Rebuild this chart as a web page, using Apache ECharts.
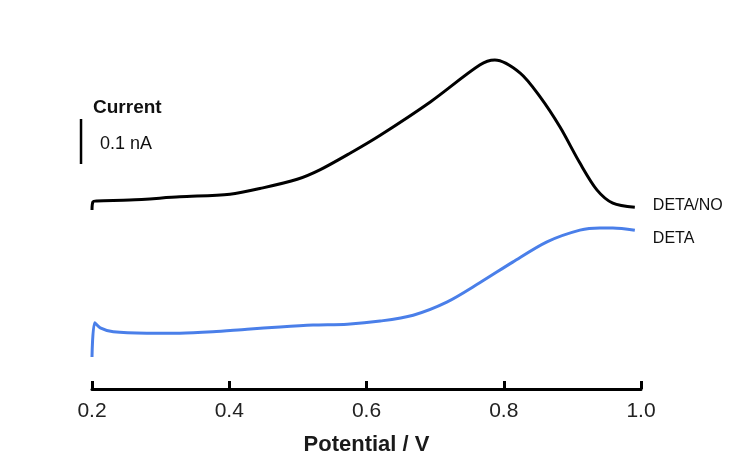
<!DOCTYPE html>
<html>
<head>
<meta charset="utf-8">
<script src="https://cdn.jsdelivr.net/npm/echarts@6/dist/echarts.min.js"></script>
<style>
  html, body { margin: 0; padding: 0; background: #fff; }
  #chart { width: 746px; height: 466px; }
</style>
</head>
<body>
<div id="chart"></div>
<script>
// Potential sweep (V) and measured current (nA) for each sample
const detaNoPotential = [0.200, 0.2015, 0.207, 0.255, 0.328, 0.401, 0.449, 0.499, 0.532, 0.576, 0.620, 0.693, 0.765, 0.787, 0.824, 0.853, 0.882, 0.911, 0.936, 0.959, 0.991];
const detaNoCurrent   = [0.398, 0.416, 0.418, 0.420, 0.427, 0.433, 0.447, 0.466, 0.487, 0.524, 0.564, 0.638, 0.720, 0.731, 0.702, 0.649, 0.582, 0.502, 0.442, 0.413, 0.404];

const detaPotential = [0.200, 0.204, 0.212, 0.231, 0.280, 0.328, 0.376, 0.426, 0.474, 0.522, 0.572, 0.620, 0.668, 0.717, 0.765, 0.813, 0.863, 0.911, 0.940, 0.959, 0.991];
const detaCurrent   = [0.071, 0.147, 0.136, 0.127, 0.124, 0.124, 0.127, 0.133, 0.138, 0.142, 0.144, 0.151, 0.164, 0.193, 0.236, 0.282, 0.327, 0.353, 0.358, 0.358, 0.353];

const xTicks = [0.2, 0.4, 0.6, 0.8, 1.0];

// Scale bar: 0.1 nA
const scaleBarPotential = 0.184;
const scaleBarFrom = 0.50;
const scaleBarTo = 0.60;

const zip = (xs, ys) => xs.map((x, i) => [x, ys[i]]);

const chart = echarts.init(document.getElementById('chart'), null, { renderer: 'canvas' });
const font = 'Liberation Sans, Arial, Helvetica, sans-serif';

chart.setOption({
  animation: false,
  backgroundColor: '#ffffff',
  grid: { left: 92, right: 105, top: 20, bottom: 77, containLabel: false, outerBoundsMode: 'none' },
  xAxis: {
    type: 'value',
    min: 0.2, max: 1.0, interval: 0.2,
    name: 'Potential / V',
    nameLocation: 'middle',
    nameGap: 45,
    nameTextStyle: { fontFamily: font, fontSize: 22, fontWeight: 'bold', color: '#1a1a1a' },
    axisLine: { show: true, lineStyle: { color: '#000', width: 3 } },
    axisTick: { show: true, inside: true, length: 8, lineStyle: { color: '#000', width: 3 } },
    axisLabel: {
      margin: 12, fontFamily: font, fontSize: 21, color: '#222',
      formatter: v => xTicks.includes(+v.toFixed(1)) ? v.toFixed(1) : ''
    },
    splitLine: { show: false }
  },
  yAxis: {
    type: 'value', min: 0, max: 0.82,
    show: false
  },
  series: [
    {
      name: 'DETA/NO',
      type: 'line',
      data: zip(detaNoPotential, detaNoCurrent),
      smooth: 0.3,
      showSymbol: false,
      lineStyle: { color: '#000', width: 3 },
      endLabel: {
        show: true, formatter: 'DETA/NO', distance: 18, offset: [0, -2],
        fontFamily: font, fontSize: 16, color: '#111'
      }
    },
    {
      name: 'DETA',
      type: 'line',
      data: zip(detaPotential, detaCurrent),
      smooth: 0.3,
      showSymbol: false,
      lineStyle: { color: '#4a7fe9', width: 3 },
      endLabel: {
        show: true, formatter: 'DETA', distance: 18, offset: [0, 8],
        fontFamily: font, fontSize: 16, color: '#111'
      }
    }
  ]
});

// Scale bar and its caption, placed through the chart's own coordinates
function drawScaleBar() {
  const p1 = chart.convertToPixel({ gridIndex: 0 }, [0.2, scaleBarFrom]);
  const p2 = chart.convertToPixel({ gridIndex: 0 }, [0.2, scaleBarTo]);
  const x0 = chart.convertToPixel({ xAxisIndex: 0 }, 0.2);
  const xs = x0 + (scaleBarPotential - 0.2) * (chart.convertToPixel({ xAxisIndex: 0 }, 1.0) - x0) / 0.8;
  chart.setOption({
    graphic: [
      { type: 'line', shape: { x1: xs, y1: p1[1], x2: xs, y2: p2[1] }, style: { stroke: '#000', lineWidth: 2.5 } },
      { type: 'text', x: xs + 12, y: p2[1] - 21, style: { text: 'Current', fontFamily: font, fontSize: 19, fontWeight: 'bold', fill: '#111' } },
      { type: 'text', x: xs + 19, y: p2[1] + 16, style: { text: '0.1 nA', fontFamily: font, fontSize: 18, fill: '#111' } }
    ]
  });
}
drawScaleBar();
</script>
</body>
</html>
